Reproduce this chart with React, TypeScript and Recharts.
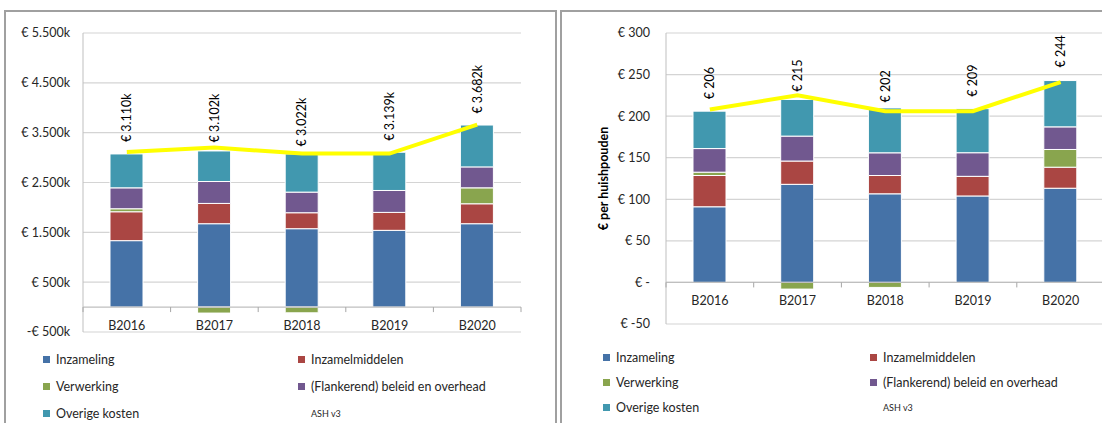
import React from 'react';
import {
  ComposedChart,
  Bar,
  Line,
  XAxis,
  YAxis,
  CartesianGrid,
  ReferenceLine,
  LabelList,
} from 'recharts';

// ---------- data ----------
const categories = ['B2016', 'B2017', 'B2018', 'B2019', 'B2020'];

// left chart: total costs (x € 1.000)
const inzamelingK = [1333, 1673, 1573, 1540, 1673];
const inzamelmiddelenK = [580, 407, 320, 360, 400];
const verwerkingK = [60, -120, -115, 0, 320];
const beleidK = [420, 440, 414, 440, 420];
const overigK = [680, 613, 766, 767, 840];
const ashLineK = [3110, 3200, 3080, 3080, 3660];
const totalLabelK = [3110, 3102, 3022, 3139, 3682];
const ticksK = [-500, 500, 1500, 2500, 3500, 4500, 5500];

// right chart: € per household
const inzamelingHh = [91, 118, 106.6, 104, 113.3];
const inzamelmiddelenHh = [37.6, 28, 22, 23.6, 25.3];
const verwerkingHh = [4, -8, -6, 0, 21.3];
const beleidHh = [28.4, 30, 27.3, 28.4, 27.2];
const overigHh = [45, 44, 54, 53, 55.7];
const ashLineHh = [208, 225, 206, 206, 241];
const totalLabelHh = [206, 215, 202, 209, 244];
const ticksHh = [-50, 0, 50, 100, 150, 200, 250, 300];

const seriesNames = [
  'Inzameling',
  'Inzamelmiddelen',
  'Verwerking',
  '(Flankerend) beleid en overhead',
  'Overige kosten',
];
const lineName = 'ASH v3';
const yTitleRight = '€ per huishpouden';

// ---------- styles ----------
const COLORS = ['#4572A7', '#AA4643', '#89A54E', '#71588F', '#4198AF'];
const KEYS = ['inzameling', 'inzamelmiddelen', 'verwerking', 'beleid', 'overig'];
const FONT = "Lato, 'Liberation Sans', Arial, sans-serif";
const YELLOW = '#FFFF00';

const buildRows = (vals: number[][], line: number[], totals: number[]) =>
  categories.map((c, i) => {
    const row: any = { name: c, ash: line[i], total: totals[i] };
    KEYS.forEach((k, j) => (row[k] = vals[j][i]));
    return row;
  });

const dataLeft = buildRows(
  [inzamelingK, inzamelmiddelenK, verwerkingK, beleidK, overigK],
  ashLineK,
  totalLabelK
);
const dataRight = buildRows(
  [inzamelingHh, inzamelmiddelenHh, verwerkingHh, beleidHh, overigHh],
  ashLineHh,
  totalLabelHh
);

const dots = (n: number) => {
  const s = String(Math.abs(n));
  return s.replace(/\B(?=(\d{3})+(?!\d))/g, '.');
};
const fmtTickK = (v: number) => (v < 0 ? '-€ ' : '€ ') + dots(v) + 'k';
const fmtLabelK = (v: number) => '€ ' + dots(v) + 'k';
const fmtTickHh = (v: number) => (v === 0 ? '€ -' : '€ ' + v);
const fmtLabelHh = (v: number) => '€ ' + v;

type ChartProps = {
  data: any[];
  left: number;
  width: number;
  height: number;
  margin: { top: number; right: number; bottom: number; left: number };
  yAxisWidth: number;
  xAxisHeight: number;
  domain: [number, number];
  ticks: number[];
  tickFormatter: (v: number) => string;
  labelFormatter: (v: number) => string;
  tickMargin: number;
  catShift: number;
  labelGap: number;
  yTitle?: string;
  yTitleX?: number;
};

function CostChart(p: ChartProps) {
  const plotW = p.width - p.margin.left - p.margin.right - p.yAxisWidth;
  const plotH = p.height - p.margin.top - p.margin.bottom - p.xAxisHeight;
  const band = plotW / categories.length;
  const zeroOffset = (plotH * (0 - p.domain[0])) / (p.domain[1] - p.domain[0]);

  const CategoryTick = (tp: any) => {
    const { x, y, payload, index } = tp;
    const zy = y - zeroOffset;
    return (
      <g>
        {index === 0 && (
          <line x1={x - band / 2} x2={x - band / 2} y1={zy} y2={zy + 5} stroke="#a6a6a6" />
        )}
        <line x1={x + band / 2} x2={x + band / 2} y1={zy} y2={zy + 5} stroke="#a6a6a6" />
        <text
          x={x}
          y={y + p.catShift}
          textAnchor="middle"
          fontSize={12.5}
          fontFamily={FONT}
          fill="#262626"
        >
          {payload.value}
        </text>
      </g>
    );
  };

  const TotalLabel = (lp: any) => {
    const { x, y, value } = lp;
    const ty = y - p.labelGap;
    return (
      <text
        x={x}
        y={ty}
        transform={`rotate(-90, ${x}, ${ty})`}
        textAnchor="start"
        dominantBaseline="central"
        fontSize={12.5}
        fontFamily={FONT}
        fill="#000"
      >
        {p.labelFormatter(value)}
      </text>
    );
  };

  return (
    <div style={{ position: 'absolute', left: p.left, top: 0, width: p.width, height: p.height }}>
      <ComposedChart
        width={p.width}
        height={p.height}
        data={p.data}
        margin={p.margin}
        stackOffset="sign"
        barCategoryGap={0}
      >
        <CartesianGrid vertical={false} stroke="#d4d4d4" strokeWidth={1.2} />
        <XAxis
          dataKey="name"
          height={p.xAxisHeight}
          axisLine={false}
          tickLine={false}
          tickSize={0}
          tickMargin={0}
          interval={0}
          tick={CategoryTick}
        />
        <YAxis
          type="number"
          width={p.yAxisWidth}
          domain={p.domain}
          ticks={p.ticks}
          interval={0}
          tickFormatter={p.tickFormatter}
          axisLine={{ stroke: '#bfbfbf' }}
          tickLine={false}
          tickSize={0}
          tickMargin={p.tickMargin}
          tick={{ fontSize: 12.5, fontFamily: FONT, fill: '#262626' }}
          label={
            p.yTitle
              ? (lp: any) => {
                  const vb = lp.viewBox;
                  const cx = p.yTitleX as number;
                  const cy = vb.y + vb.height / 2;
                  return (
                    <text
                      x={cx}
                      y={cy}
                      transform={`rotate(-90, ${cx}, ${cy})`}
                      textAnchor="middle"
                      dominantBaseline="central"
                      fontSize={12.5}
                      fontWeight="bold"
                      fontFamily={FONT}
                      fill="#000"
                    >
                      {p.yTitle}
                    </text>
                  );
                }
              : undefined
          }
        />
        <ReferenceLine y={0} stroke="#bfbfbf" strokeWidth={1.2} />
        {KEYS.map((k, i) => (
          <Bar
            key={k}
            dataKey={k}
            name={seriesNames[i]}
            stackId="costs"
            fill={COLORS[i]}
            stroke="#ffffff"
            strokeWidth={1}
            barSize={33}
            isAnimationActive={false}
          />
        ))}
        <Line
          dataKey="ash"
          name={lineName}
          type="linear"
          stroke={YELLOW}
          strokeWidth={4}
          dot={false}
          activeDot={false}
          isAnimationActive={false}
        />
        <Line
          dataKey="total"
          stroke="none"
          dot={false}
          activeDot={false}
          legendType="none"
          isAnimationActive={false}
        >
          <LabelList dataKey="total" content={TotalLabel} />
        </Line>
      </ComposedChart>
    </div>
  );
}

type LegendProps = {
  col1: number;
  col2: number;
  rows: number[];
  fontSize: number;
};

function CostLegend({ col1, col2, rows, fontSize }: LegendProps) {
  const items = [
    ...seriesNames.map((n, i) => ({ name: n, color: COLORS[i] as string | null })),
    { name: lineName, color: null },
  ];
  return (
    <>
      {items.map((it, i) => {
        const x = i % 2 === 0 ? col1 : col2;
        const y = rows[Math.floor(i / 2)];
        return (
          <div
            key={it.name}
            style={{
              position: 'absolute',
              left: x,
              top: y - 10,
              height: 20,
              display: 'flex',
              alignItems: 'center',
              fontFamily: FONT,
              fontSize: it.color ? fontSize : 9,
              color: '#262626',
              whiteSpace: 'nowrap',
            }}
          >
            <span
              style={{
                display: 'inline-block',
                width: 7,
                height: 7,
                background: it.color || 'transparent',
                marginRight: 6,
              }}
            />
            {it.name}
          </div>
        );
      })}
    </>
  );
}

export default function App() {
  return (
    <div
      style={{
        position: 'absolute',
        left: 0,
        top: 0,
        width: 1102,
        height: 423,
        overflow: 'hidden',
        background: '#fff',
      }}
    >
      <div
        style={{
          position: 'absolute',
          left: 4,
          top: 10,
          width: 549,
          height: 440,
          border: '2px solid #a0a0a0',
          background: '#fff',
        }}
      />
      <div
        style={{
          position: 'absolute',
          left: 560,
          top: 10,
          width: 600,
          height: 440,
          border: '2px solid #a0a0a0',
          background: '#fff',
        }}
      />
      <CostChart
        data={dataLeft}
        left={0}
        width={560}
        height={423}
        margin={{ top: 33, right: 39, bottom: 71, left: 0 }}
        yAxisWidth={83}
        xAxisHeight={20}
        domain={[-500, 5500]}
        ticks={ticksK}
        tickFormatter={fmtTickK}
        labelFormatter={fmtLabelK}
        tickMargin={13}
        catShift={-2}
        labelGap={10}
      />
      <CostChart
        data={dataRight}
        left={561}
        width={560}
        height={423}
        margin={{ top: 33, right: 16.5, bottom: 79, left: 0 }}
        yAxisWidth={105}
        xAxisHeight={20}
        domain={[-50, 300]}
        ticks={ticksHh}
        tickFormatter={fmtTickHh}
        labelFormatter={fmtLabelHh}
        tickMargin={16}
        catShift={-19}
        labelGap={12}
        yTitle={yTitleRight}
        yTitleX={42}
      />
      <CostLegend col1={43} col2={298} rows={[359, 386, 413]} fontSize={12.5} />
      <CostLegend col1={603} col2={870} rows={[357, 382, 407]} fontSize={12.5} />
    </div>
  );
}
